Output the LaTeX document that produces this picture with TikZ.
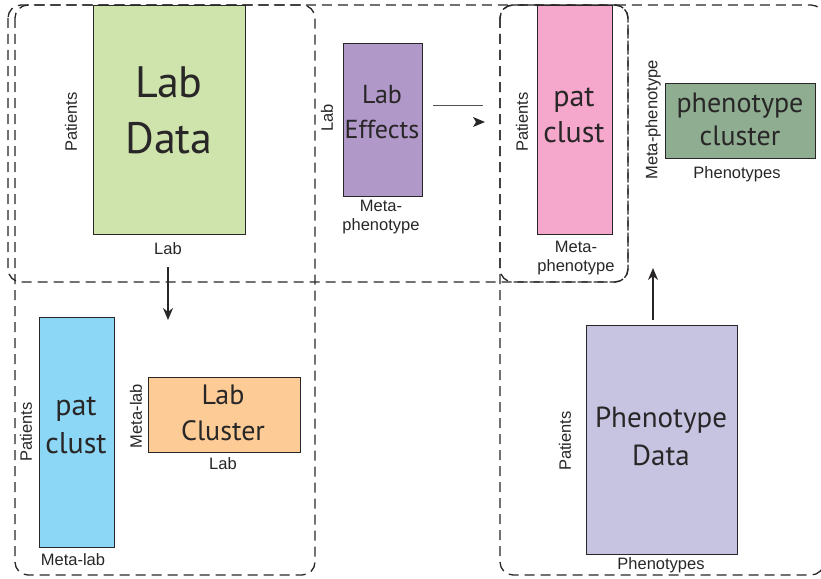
\documentclass[tikz,border=0pt]{standalone}
\usepackage{fontspec}
\setmainfont{Liberation Sans}
\newfontfamily\boxfont{PT Sans}
\usetikzlibrary{arrows.meta,calc}

\definecolor{labgreen}{RGB}{207,228,173}
\definecolor{effpurple}{RGB}{176,152,200}
\definecolor{clustpink}{RGB}{245,168,204}
\definecolor{phenogreen}{RGB}{143,173,145}
\definecolor{clustblue}{RGB}{140,215,245}
\definecolor{laborange}{RGB}{253,204,150}
\definecolor{phenolav}{RGB}{199,196,226}
\definecolor{ink}{RGB}{40,38,38}

\begin{document}
\begin{tikzpicture}[x=1pt,y=-1pt,
  panel/.style={draw=ink, line width=1.3pt, dash pattern=on 10pt off 6pt, rounded corners=13pt},
  block/.style={draw=ink, line width=1pt, inner sep=0pt, anchor=north west},
  title/.style={align=center, text=ink, inner sep=0pt},
  axis/.style={font=\fontsize{16.5}{19}\selectfont, inner sep=0pt, text=ink, align=center},
  flow/.style={line width=1.5pt, draw=ink, -{Stealth[length=12pt,width=10pt]}}]

\useasboundingbox (0,0) rectangle (821,578);

% data blocks
\node[block, fill=labgreen,   minimum width=152pt, minimum height=229pt] (labdata) at (93,5) {};
\node[block, fill=effpurple,  minimum width=79pt,  minimum height=153pt] (effects) at (343,43) {};
\node[block, fill=clustpink,  minimum width=75pt,  minimum height=229pt] (patclustA) at (537,5) {};
\node[block, fill=phenogreen, minimum width=150pt, minimum height=75pt]  (phenoclust) at (665,83) {};
\node[block, fill=clustblue,  minimum width=75pt,  minimum height=230pt] (patclustB) at (39,317) {};
\node[block, fill=laborange,  minimum width=152pt, minimum height=75pt]  (labclust) at (148,377) {};
\node[block, fill=phenolav,   minimum width=151pt, minimum height=229pt] (phenodata) at (586,325) {};

% block titles
\node[title, font=\boxfont\fontsize{44}{56}\selectfont] (labdataT) at (169,110) {Lab\\Data};
\node[title, font=\boxfont\fontsize{26}{35}\selectfont] (effectsT) at (382,112) {Lab\\Effects};
\node[title, font=\boxfont\fontsize{30}{36}\selectfont] (patclustAT) at (574,115) {pat\\clust};
\node[title, font=\boxfont\fontsize{28}{33}\selectfont] (phenoclustT) at (740,119) {phenotype\\cluster};
\node[title, font=\boxfont\fontsize{30}{38}\selectfont] (patclustBT) at (76,425) {pat\\clust};
\node[title, font=\boxfont\fontsize{28}{36}\selectfont] (labclustT) at (223,413) {Lab\\Cluster};
\node[title, font=\boxfont\fontsize{29}{38}\selectfont] (phenodataT) at (661,436) {Phenotype\\Data};

% axis labels
\node[axis, rotate=90] (labdataR) at (71,122) {Patients};
\node[axis] (labdataC) at (168,249) {Lab};
\node[axis, rotate=90] (effectsR) at (327,118) {Lab};
\node[axis] (effectsC) at (381,217) {Meta-\\phenotype};
\node[axis, rotate=90] (patclustAR) at (522,122) {Patients};
\node[axis] (patclustAC) at (576,258) {Meta-\\phenotype};
\node[axis, rotate=90] (phenoclustR) at (653,120) {Meta-phenotype};
\node[axis] (phenoclustC) at (737,174) {Phenotypes};
\node[axis, rotate=90] (patclustBR) at (26,432) {Patients};
\node[axis] (patclustBC) at (73,560) {Meta-lab};
\node[axis, rotate=90] (labclustR) at (136,416) {Meta-lab};
\node[axis] (labclustC) at (223,464) {Lab};
\node[axis, rotate=90] (phenodataR) at (565,441) {Patients};
\node[axis] (phenodataC) at (661,565) {Phenotypes};

% dashed groupings (the right-hand one runs past the page edge)
\draw[panel] (15,5) rectangle (315,575);
\draw[panel] (8,5) rectangle (628,282);
\draw[panel] (500,5) rectangle (628,282);
\draw[panel] (500,5) rectangle (824,575);

% connectors
\coordinate (downS) at (168,267);
\coordinate (downE) at (168,320);
\draw[flow] (downS) -- (downE);

\coordinate (upS) at (653,320);
\coordinate (upE) at (653,268);
\draw[flow] (upS) -- (upE);

\coordinate (sideS) at (433,105);
\coordinate (sideE) at (483,105);
\draw[ink!80, line width=0.8pt] (sideS) -- (sideE);
\coordinate (tipC) at (479,122);
\fill[ink] ($(tipC)+(-6,-5)$) -- ($(tipC)+(6,0)$) -- ($(tipC)+(-6,5)$) -- ($(tipC)+(-3,0)$) -- cycle;

\end{tikzpicture}
\end{document}
